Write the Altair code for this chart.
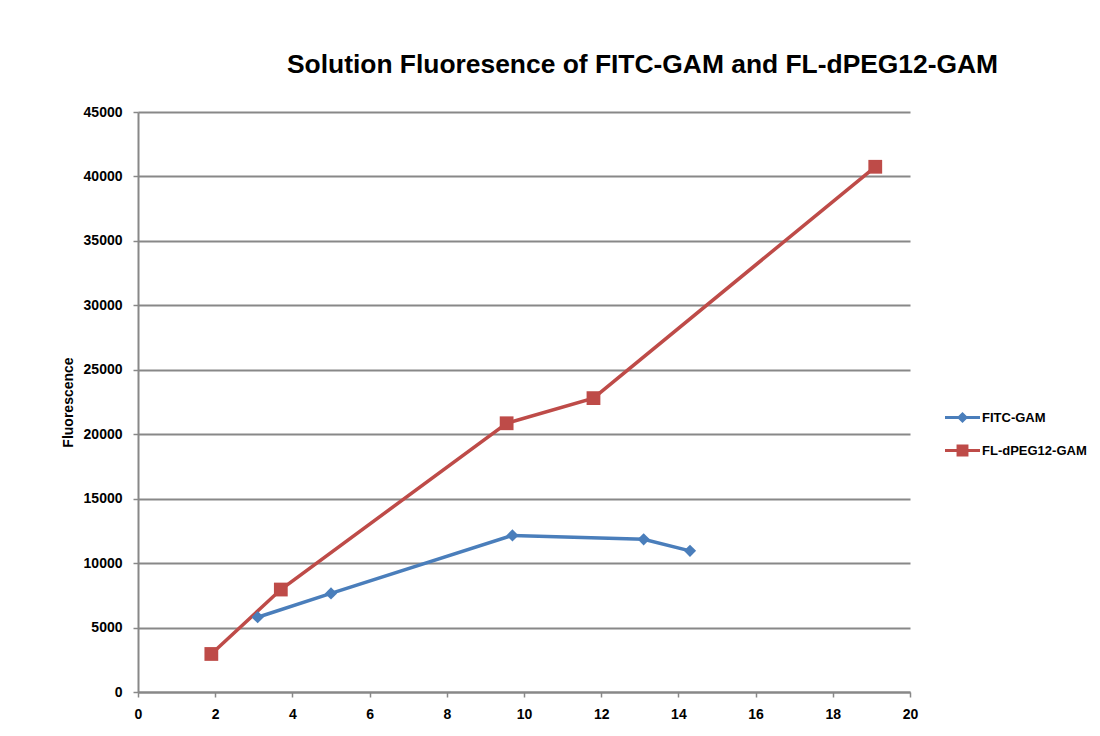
import altair as alt
import pandas as pd

fitc_x = [3.1, 5.0, 9.7, 13.1, 14.3]
fitc_y = [5800, 7650, 12150, 11850, 10950]
fl_x = [1.9, 3.7, 9.55, 11.8, 19.1]
fl_y = [2950, 7950, 20850, 22800, 40750]
series = ["FITC-GAM", "FL-dPEG12-GAM"]
colors = ["#4A7EBB", "#BE4B48"]

df = pd.concat([
    pd.DataFrame({"x": fitc_x, "y": fitc_y, "s": series[0]}),
    pd.DataFrame({"x": fl_x, "y": fl_y, "s": series[1]}),
])

LABEL_FONT = "Liberation Sans"
TITLE_FONT = "Liberation Sans"

x_enc = alt.X("x:Q", scale=alt.Scale(domain=[0, 20], nice=False),
              axis=alt.Axis(values=list(range(0, 21, 2)), title="F/P", grid=False,
                            domainColor="#888888", domainWidth=2, tickColor="#888888",
                            tickWidth=1.5, tickSize=5, labelFont=LABEL_FONT,
                            labelFontSize=14, labelFontWeight="bold", labelColor="#000000",
                            labelPadding=10, labelFlush=False, titleFont=LABEL_FONT,
                            titleFontSize=12, titleFontWeight="bold", titlePadding=6))
y_enc = alt.Y("y:Q", scale=alt.Scale(domain=[0, 45000], nice=False),
              axis=alt.Axis(values=list(range(0, 45001, 5000)), format="d",
                            title="Fluorescence", grid=True, gridColor="#888888",
                            gridWidth=2, domainColor="#888888", domainWidth=2,
                            tickColor="#888888", tickWidth=1.5, tickSize=5,
                            labelFont=LABEL_FONT, labelFontSize=14, labelFontWeight="bold",
                            labelColor="#000000", labelPadding=11, labelFlush=False,
                            titleFont=LABEL_FONT, titleFontSize=14, titleFontWeight="bold",
                            titlePadding=8))

color_scale = alt.Scale(domain=series, range=colors)

lines = alt.Chart(df).mark_line(strokeWidth=3.5).encode(
    x=x_enc, y=y_enc,
    color=alt.Color("s:N", scale=color_scale, legend=None),
    detail="s:N",
)

points = alt.Chart(df).mark_point(filled=True, opacity=1).encode(
    x=x_enc, y=y_enc,
    color=alt.Color("s:N", scale=color_scale, legend=None),
    shape=alt.Shape("s:N", scale=alt.Scale(domain=series, range=["diamond", "square"]), legend=None),
    size=alt.Size("s:N", scale=alt.Scale(domain=series, range=[150, 190]), legend=None),
)

legend_paths = [
    "M-1,-0.09H1V0.09H-1Z M0,-0.32L0.32,0L0,0.32L-0.32,0Z",
    "M-1,-0.09H1V0.09H-1Z M-0.34,-0.34H0.34V0.34H-0.34Z",
]
legend_props = dict(title=None, orient="none", legendX=807, legendY=288,
                    symbolSize=1225, symbolStrokeWidth=0,
                    labelFont=LABEL_FONT, labelFontSize=13,
                    labelFontWeight="bold", labelColor="#000000",
                    labelOffset=2, rowPadding=8)
legend_layer = alt.Chart(df).mark_point(filled=True, opacity=1).encode(
    x=x_enc, y=y_enc,
    color=alt.Color("s:N", scale=color_scale, legend=alt.Legend(**legend_props)),
    shape=alt.Shape("s:N", scale=alt.Scale(domain=series, range=legend_paths),
                    legend=alt.Legend(**legend_props)),
).transform_filter("false")

chart = alt.layer(lines, points, legend_layer).resolve_scale(
    shape="independent", size="independent", color="independent"
).properties(
    width=772, height=580,
    autosize=alt.AutoSizeParams(type="none"),
    padding={"left": 130, "top": 104, "right": 180, "bottom": 30},
    title=alt.TitleParams("Solution Fluoresence of FITC-GAM and FL-dPEG12-GAM",
                          anchor="start", frame="group", dx=149, offset=27,
                          font=TITLE_FONT, fontSize=26.4, fontWeight="bold", color="#000000"),
).configure_view(stroke=None)

chart.save("out.html", embed_options={"renderer": "svg", "actions": False})
